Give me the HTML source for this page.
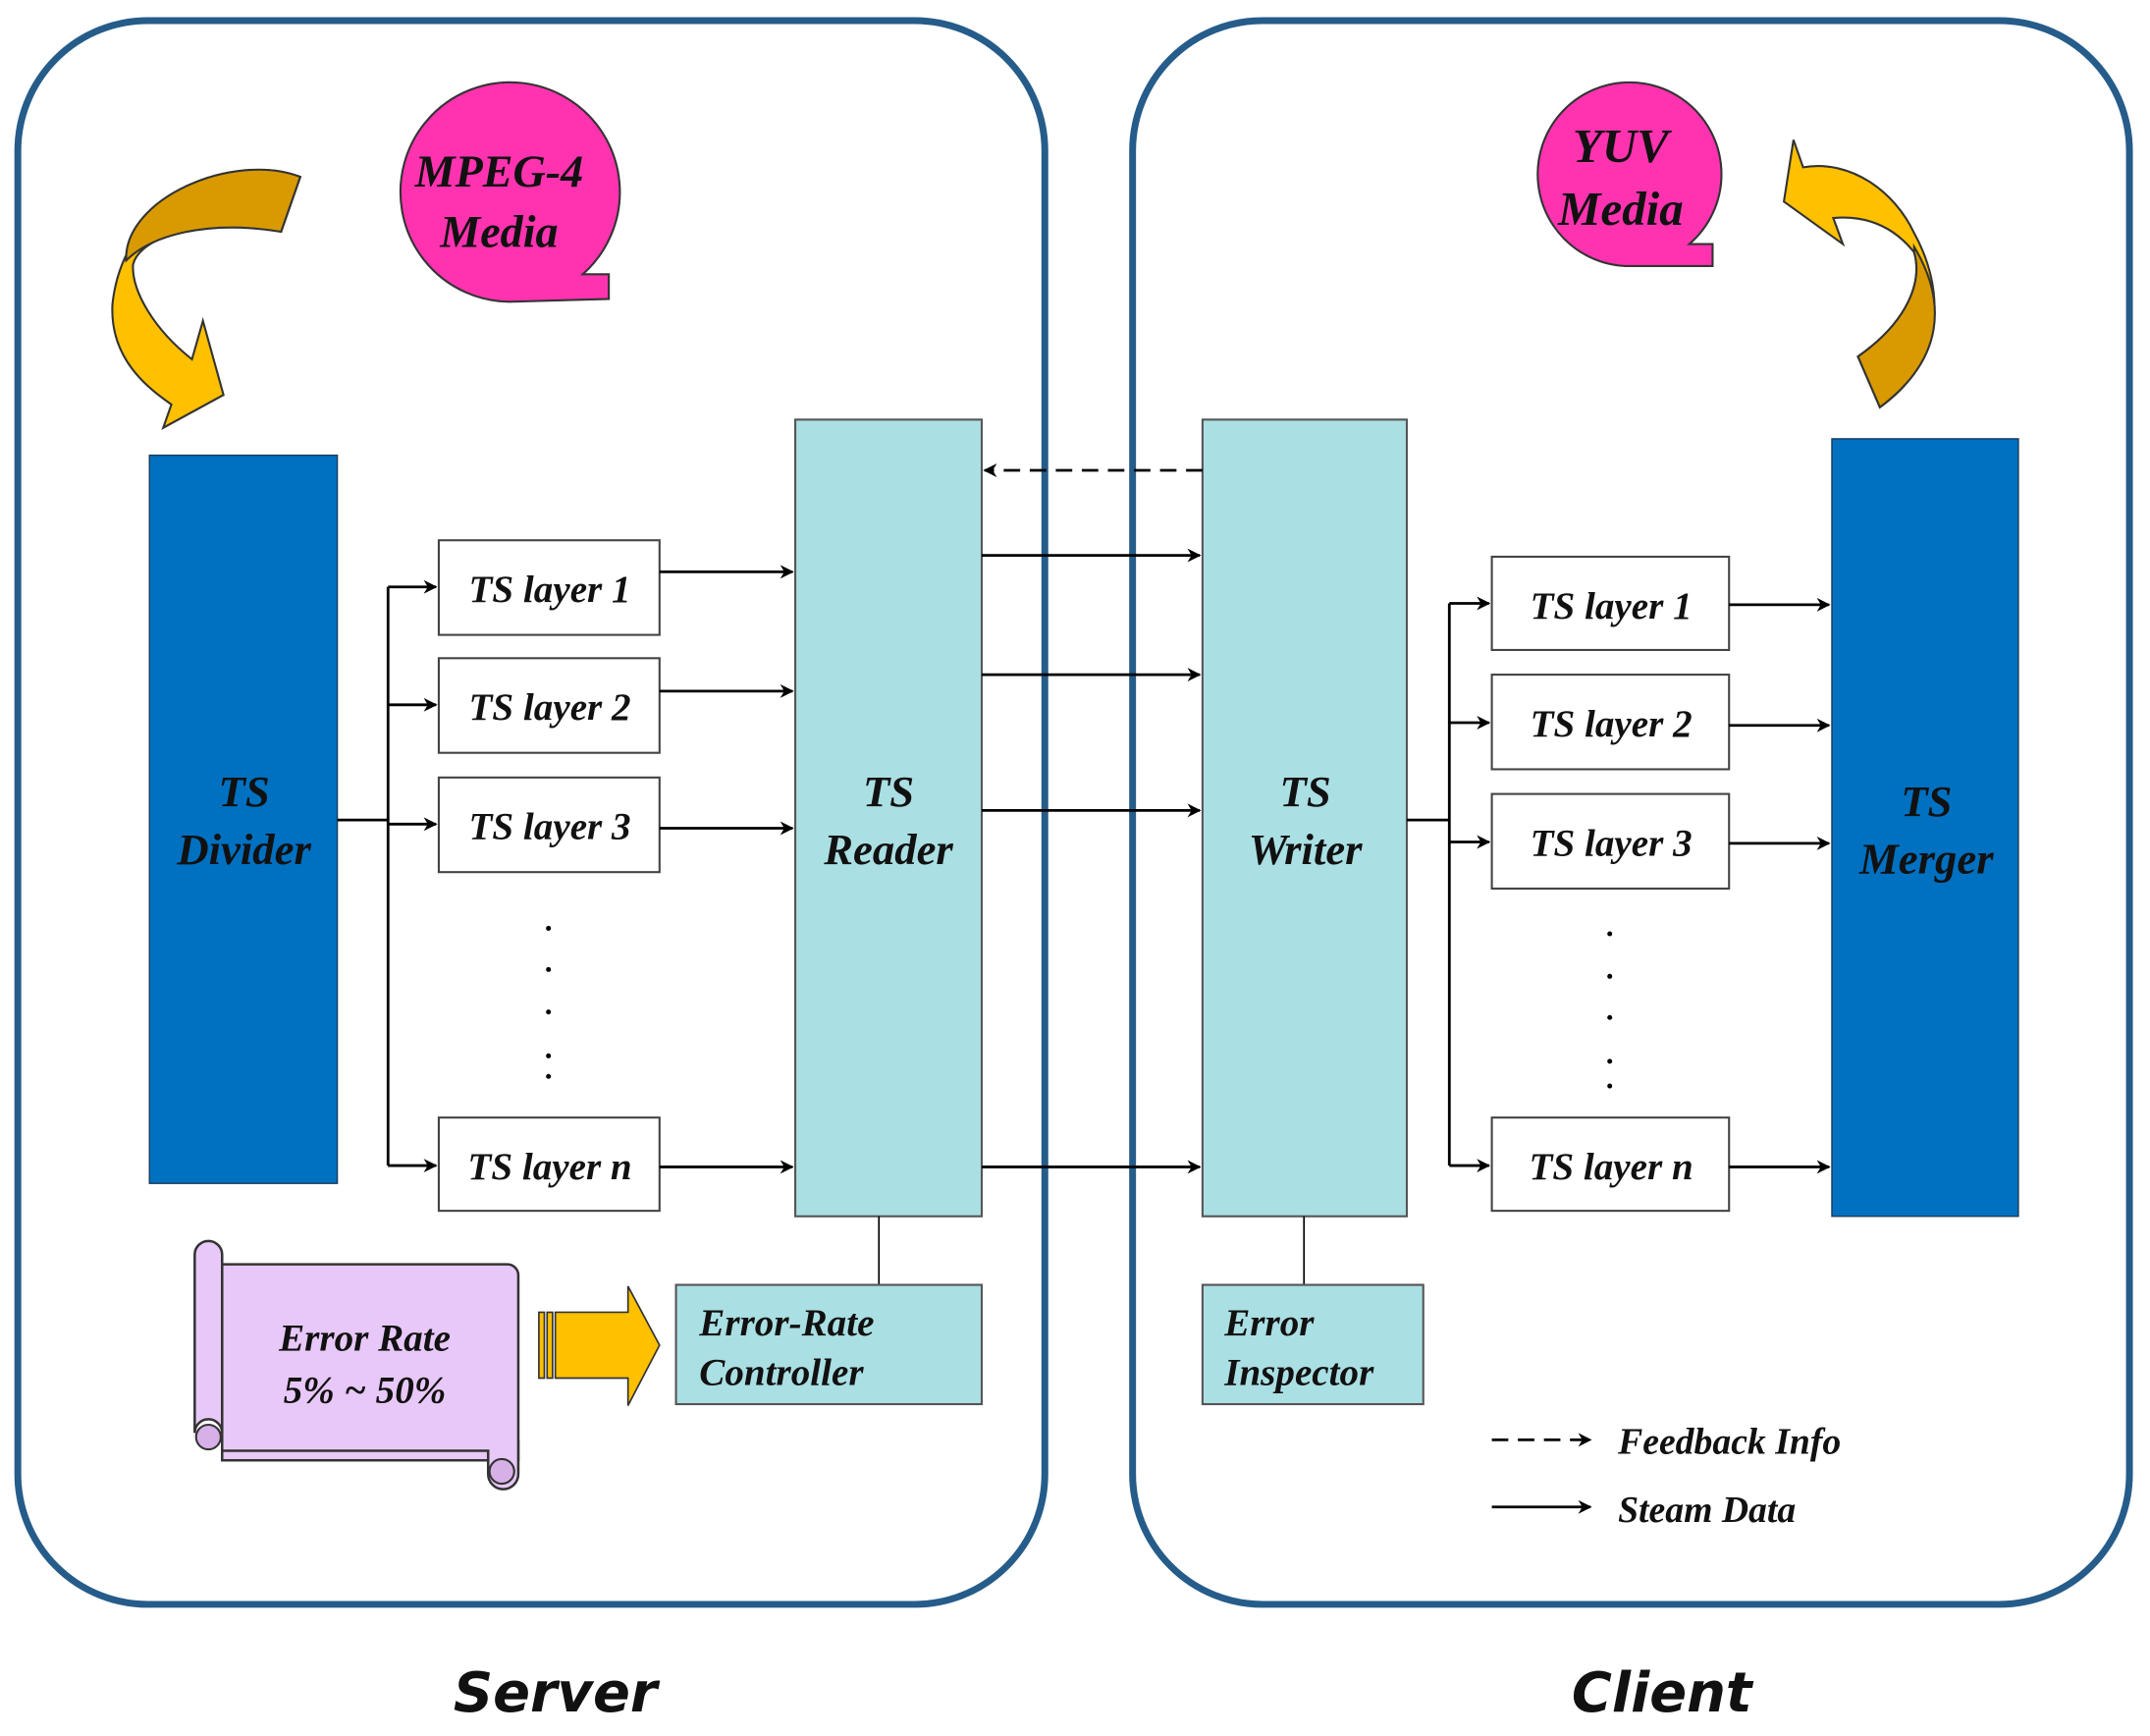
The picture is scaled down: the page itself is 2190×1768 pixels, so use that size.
<!DOCTYPE html>
<html><head><meta charset="utf-8"><style>
html,body{margin:0;padding:0;background:#fff}
svg{display:block}
text{font-family:"Liberation Serif",serif;font-style:italic;font-weight:bold;fill:#111}
</style></head><body>
<svg width="2190" height="1768" viewBox="0 0 1568 1266" preserveAspectRatio="none" xmlns="http://www.w3.org/2000/svg">
<defs>
<marker id="a" markerWidth="10" markerHeight="10" refX="9" refY="5" orient="auto" markerUnits="userSpaceOnUse"><path d="M0,0 L10,5 L0,10 L3,5 Z" fill="#000"/></marker>
</defs>
<!-- panels -->
<rect x="13" y="15" width="749" height="1155" rx="95" fill="none" stroke="#255c8a" stroke-width="5"/>
<rect x="826" y="15" width="727" height="1155" rx="95" fill="none" stroke="#255c8a" stroke-width="5"/>

<!-- bubbles -->
<path d="M444,218 L444,200 L425,200 A80,80 0 1 0 374,220 Z" fill="#ff33b0" stroke="#333" stroke-width="1.5"/>
<text x="364" y="136" font-size="33" text-anchor="middle">MPEG-4</text>
<text x="364" y="180" font-size="33" text-anchor="middle">Media</text>
<path d="M1249,194 L1249,178 L1232,178 A67,67 0 1 0 1185,194 Z" fill="#ff33b0" stroke="#333" stroke-width="1.5"/>
<text x="1182" y="118" font-size="35" text-anchor="middle" font-weight="normal">YUV</text>
<text x="1182" y="164" font-size="35" text-anchor="middle" font-weight="normal">Media</text>

<!-- curved arrows -->
<path d="M219,129 C170,110 90,145 82,222 C80,262 108,283 125,295 L119,312 L163,288 L148,234 L140,262 C112,240 96,212 97,193 C102,172 150,158 205,169 Z" fill="#ffc000" stroke="#333" stroke-width="1.5"/>
<path d="M219,129 C170,110 90,145 92,190 C110,172 150,160 205,169 Z" fill="#d89a00" stroke="#333" stroke-width="1.5"/>
<path d="M1301,147 L1308,102 L1315,122 C1350,116 1382,140 1396,170 C1418,210 1420,262 1371,297 L1355,260 C1392,234 1402,205 1396,184 C1380,164 1360,157 1337,159 L1344,178 Z" fill="#ffc000" stroke="#333" stroke-width="1.5"/>
<path d="M1396,180 C1420,220 1418,262 1371,297 L1355,260 C1392,234 1402,205 1396,184 Z" fill="#d89a00" stroke="#333" stroke-width="1.5"/>

<!-- big blocks -->
<rect x="109" y="332" width="137" height="531" fill="#0070c0" stroke="#1a3a5a" stroke-width="1"/>
<text x="178" y="588" font-size="32" text-anchor="middle">TS</text>
<text x="178" y="630" font-size="32" text-anchor="middle">Divider</text>
<rect x="580" y="306" width="136" height="581" fill="#aadfe3" stroke="#555" stroke-width="1.5"/>
<text x="648" y="588" font-size="32" text-anchor="middle">TS</text>
<text x="648" y="630" font-size="32" text-anchor="middle">Reader</text>
<rect x="877" y="306" width="149" height="581" fill="#aadfe3" stroke="#555" stroke-width="1.5"/>
<text x="952" y="588" font-size="32" text-anchor="middle">TS</text>
<text x="952" y="630" font-size="32" text-anchor="middle">Writer</text>
<rect x="1336" y="320" width="136" height="567" fill="#0070c0" stroke="#1a3a5a" stroke-width="1"/>
<text x="1405" y="595" font-size="32" text-anchor="middle">TS</text>
<text x="1405" y="637" font-size="32" text-anchor="middle">Merger</text>

<!-- server layers -->
<g fill="#fff" stroke="#444" stroke-width="1.5">
<rect x="320" y="394" width="161" height="69"/><rect x="320" y="480" width="161" height="69"/>
<rect x="320" y="567" width="161" height="69"/><rect x="320" y="815" width="161" height="68"/>
<rect x="1088" y="406" width="173" height="68"/><rect x="1088" y="492" width="173" height="69"/>
<rect x="1088" y="579" width="173" height="69"/><rect x="1088" y="815" width="173" height="68"/>
</g>
<g font-size="28" text-anchor="middle">
<text x="401" y="439">TS layer 1</text><text x="401" y="525">TS layer 2</text>
<text x="401" y="612">TS layer 3</text><text x="401" y="860">TS layer n</text>
<text x="1175" y="451">TS layer 1</text><text x="1175" y="537">TS layer 2</text>
<text x="1175" y="624">TS layer 3</text><text x="1175" y="860">TS layer n</text>
</g>
<g fill="#000">
<circle cx="400" cy="677" r="1.8"/><circle cx="400" cy="707" r="1.8"/><circle cx="400" cy="738" r="1.8"/><circle cx="400" cy="770" r="1.8"/><circle cx="400" cy="785" r="1.8"/>
<circle cx="1174" cy="681" r="1.8"/><circle cx="1174" cy="712" r="1.8"/><circle cx="1174" cy="742" r="1.8"/><circle cx="1174" cy="774" r="1.8"/><circle cx="1174" cy="792" r="1.8"/>
</g>

<!-- connectors -->
<g stroke="#000" stroke-width="2" fill="none">
<path d="M246,598 H283 M283,428 V850"/>
<path d="M283,428 H318" marker-end="url(#a)"/><path d="M283,514 H318" marker-end="url(#a)"/>
<path d="M283,601 H318" marker-end="url(#a)"/><path d="M283,850 H318" marker-end="url(#a)"/>
<path d="M481,417 H578" marker-end="url(#a)"/><path d="M481,504 H578" marker-end="url(#a)"/>
<path d="M481,604 H578" marker-end="url(#a)"/><path d="M481,851 H578" marker-end="url(#a)"/>
<path d="M716,405 H875" marker-end="url(#a)"/><path d="M716,492 H875" marker-end="url(#a)"/>
<path d="M716,591 H875" marker-end="url(#a)"/><path d="M716,851 H875" marker-end="url(#a)"/>
<path d="M877,343 H718" stroke-dasharray="12,7" marker-end="url(#a)"/>
<path d="M1026,598 H1057 M1057,440 V850"/>
<path d="M1057,440 H1086" marker-end="url(#a)"/><path d="M1057,527 H1086" marker-end="url(#a)"/>
<path d="M1057,614 H1086" marker-end="url(#a)"/><path d="M1057,850 H1086" marker-end="url(#a)"/>
<path d="M1261,441 H1334" marker-end="url(#a)"/><path d="M1261,529 H1334" marker-end="url(#a)"/>
<path d="M1261,615 H1334" marker-end="url(#a)"/><path d="M1261,851 H1334" marker-end="url(#a)"/>
<path d="M1088,1050 H1160" stroke-dasharray="12,7" marker-end="url(#a)"/>
<path d="M1088,1099 H1160" marker-end="url(#a)"/>
</g>
<path d="M641,887 V937 M951,887 V937" stroke="#000" stroke-width="1.2"/>

<!-- bottom boxes -->
<rect x="493" y="937" width="223" height="87" fill="#aadfe3" stroke="#555" stroke-width="1.5"/>
<text x="510" y="974" font-size="28">Error-Rate</text>
<text x="510" y="1010" font-size="28">Controller</text>
<rect x="877" y="937" width="161" height="87" fill="#aadfe3" stroke="#555" stroke-width="1.5"/>
<text x="893" y="974" font-size="28">Error</text>
<text x="893" y="1010" font-size="28">Inspector</text>

<!-- scroll -->
<path d="M162,922 H370 a8,8 0 0 1 8,8 V1065 H162 Z" fill="#e8c8f8" stroke="#333" stroke-width="1.8"/>
<path d="M142,915 a10,10 0 0 1 20,0 V1045 a10,10 0 0 0 -20,0 Z" fill="#e8c8f8" stroke="#333" stroke-width="1.8"/>
<path d="M162,1058 H356 V1075 a11,11 0 0 0 22,0 V1050" fill="#e8c8f8" stroke="#333" stroke-width="1.8"/>
<circle cx="152" cy="1048" r="9" fill="#d8b0e8" stroke="#333" stroke-width="1.5"/>
<circle cx="366" cy="1073" r="9" fill="#d8b0e8" stroke="#333" stroke-width="1.5"/>
<text x="266" y="985" font-size="28" text-anchor="middle">Error Rate</text>
<text x="266" y="1023" font-size="28" text-anchor="middle">5% ~ 50%</text>

<!-- block arrow -->
<g fill="#ffc000" stroke="#333" stroke-width="1.2">
<rect x="393" y="957" width="4" height="48"/><rect x="399" y="957" width="4" height="48"/>
<path d="M405,957 H458 V938 L481,981 L458,1025 V1005 H405 Z"/>
</g>

<!-- legend text -->
<text x="1180" y="1060" font-size="27">Feedback Info</text>
<text x="1180" y="1110" font-size="27">Steam Data</text>

<!-- labels -->
<text x="405" y="1248" font-size="40" text-anchor="middle" style="font-family:'DejaVu Sans','Liberation Sans',sans-serif">Server</text>
<text x="1212" y="1248" font-size="40" text-anchor="middle" style="font-family:'DejaVu Sans','Liberation Sans',sans-serif">Client</text>
</svg>
</body></html>
